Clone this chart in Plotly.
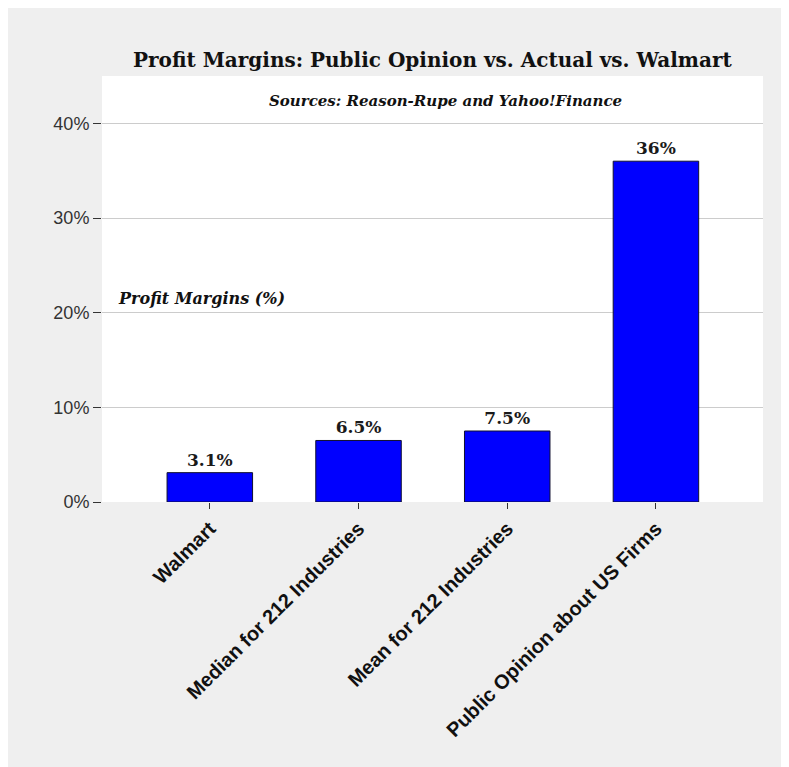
import plotly.graph_objects as go

categories = ["Walmart", "Median for 212 Industries", "Mean for 212 Industries", "Public Opinion about US Firms"]
values = [3.1, 6.5, 7.5, 36]
bar_labels = ["3.1%", "6.5%", "7.5%", "36%"]
y_ticks = [0, 10, 20, 30, 40]
y_tick_labels = ["0%", "10%", "20%", "30%", "40%"]

# the page puts the figure 8px in from the top-left corner
OFF = 8
W, H = 789, 767
ML, MR, MT, MB = 94, 34, 68, 273
PW, PH = W - ML - MR, H - MT - MB

def px_x(x):
    return (x - OFF - ML) / PW

def px_y(y):
    return (H - MB - (y - OFF)) / PH

serif = "DejaVu Serif, Georgia, serif"
sans = "Liberation Sans, Arial, sans-serif"

fig = go.Figure()
fig.add_trace(go.Bar(
    x=list(range(len(categories))),
    y=values,
    width=0.575,
    text=bar_labels,
    textposition="outside",
    cliponaxis=False,
    textfont=dict(family=serif, size=17, color="#1a1a1a", weight="bold"),
    marker=dict(color="#0000ff", line=dict(color="#101030", width=1)),
))

fig.update_layout(
    width=W, height=H,
    margin=dict(l=ML, r=MR, t=MT, b=MB),
    paper_bgcolor="#efefef",
    plot_bgcolor="#ffffff",
    showlegend=False,
    xaxis=dict(
        range=[-0.725, 3.72],
        tickmode="array",
        tickvals=list(range(len(categories))),
        ticktext=categories,
        tickangle=-45,
        ticks="outside", ticklen=6, tickcolor="#333333",
        tickfont=dict(family=sans, size=20, color="#111111", weight="bold"),
        showgrid=False, zeroline=False, showline=False,
    ),
    yaxis=dict(
        range=[0, 45],
        tickmode="array",
        tickvals=y_ticks,
        ticktext=y_tick_labels,
        ticks="outside", ticklen=8, tickcolor="#333333",
        tickfont=dict(family=sans, size=18, color="#333333"),
        showgrid=True, gridcolor="#cccccc", gridwidth=1,
        zeroline=False, showline=False,
    ),
    annotations=[
        dict(text="<b>Profit Margins: Public Opinion vs. Actual vs. Walmart</b>",
             xref="paper", yref="paper", x=0.5, y=px_y(60),
             xanchor="center", yanchor="middle", showarrow=False,
             font=dict(family=serif, size=20, color="#111111")),
        dict(text="<b><i>Sources: Reason-Rupe and Yahoo!Finance</i></b>",
             xref="paper", yref="paper", x=px_x(445), y=px_y(101),
             xanchor="center", yanchor="middle", showarrow=False,
             font=dict(family=serif, size=15, color="#111111")),
        dict(text="<b><i>Profit Margins (%)</i></b>",
             xref="paper", yref="paper", x=px_x(116), y=px_y(298),
             xanchor="left", yanchor="middle", showarrow=False,
             font=dict(family=serif, size=16, color="#111111")),
    ],
)

fig.write_html("out.html", post_script="document.body.style.overflow='hidden';")
